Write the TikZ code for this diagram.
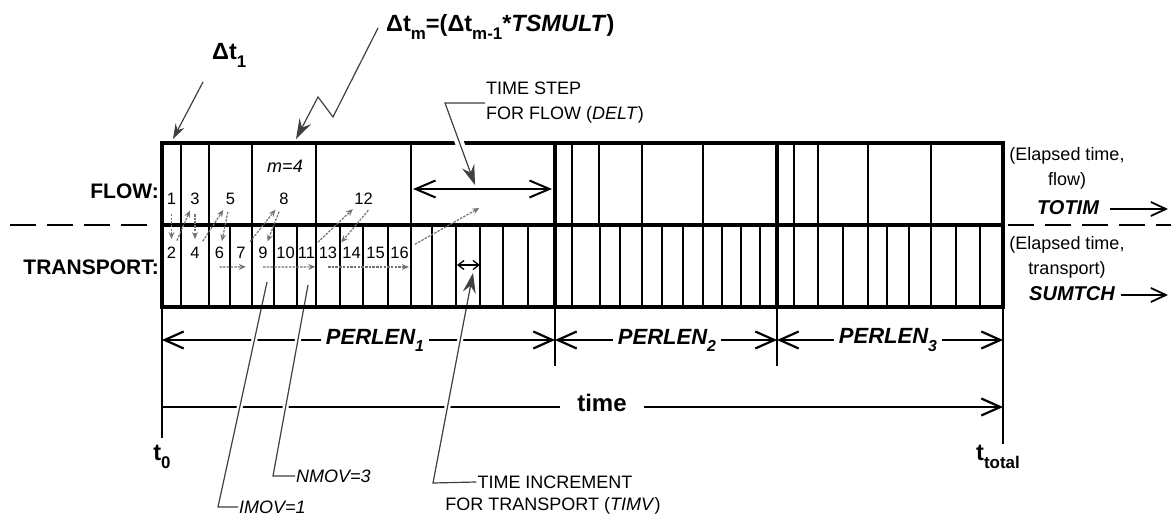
\documentclass[tikz,border=0pt]{standalone}
\usepackage{fontspec}
\setmainfont{Liberation Sans}
\usetikzlibrary{arrows.meta,calc}
\newcommand{\dn}[1]{\raisebox{-0.32em}{\scalebox{0.72}{#1}}}
\begin{document}
\begin{tikzpicture}[x=1pt,y=-1pt,
  heavy/.style={line width=4pt},
  divline/.style={line width=2.4pt},
  ext/.style={line width=2.7pt},
  dim/.style={line width=2.2pt,-{Straight Barb[length=19pt,width=17pt,line width=2.2pt]}},
  plainline/.style={line width=2.2pt},
  leader/.style={draw=black!75,line width=1.2pt},
  halo/.style={preaction={draw=white,line width=#1,-}},
  bigtip/.style={-{Stealth[length=20pt,width=13pt,inset=7pt]}},
  seq/.style={draw=black!55,line width=1.2pt,dash pattern=on 2.5pt off 1.2pt,-{Stealth[length=7pt,width=6pt,inset=2.5pt]},shorten <=7pt,shorten >=6pt},
  num/.style={inner sep=0pt,font=\fontsize{16.5}{16.5}\selectfont},
  lbl/.style={inner sep=0pt,font=\fontsize{21}{21}\selectfont\bfseries},
  txt/.style={inner sep=1pt,font=\fontsize{18}{25}\selectfont},
  itxt/.style={inner sep=1pt,font=\fontsize{18}{25}\selectfont\itshape},
  per/.style={inner ysep=0pt,inner xsep=5pt,font=\fontsize{22}{22}\selectfont\bfseries\itshape},
  bi/.style={inner ysep=0pt,font=\fontsize{20}{20}\selectfont\bfseries\itshape},
  dtl/.style={inner sep=0pt,font=\fontsize{23.5}{24}\selectfont\bfseries},
  rarr/.style={line width=1.8pt,-{Straight Barb[length=15pt,width=14pt,line width=1.8pt]}},
  dbl/.style={line width=2pt,{Straight Barb[length=20pt,width=17pt,line width=2pt]}-{Straight Barb[length=20pt,width=17pt,line width=2pt]}},
  sdbl/.style={line width=1.3pt,{Straight Barb[length=6pt,width=9pt,line width=1.3pt]}-{Straight Barb[length=6pt,width=9pt,line width=1.3pt]}}
]
\useasboundingbox (0,0) rectangle (1171,518);

% dashed separation line
\coordinate (dl1) at (10,225); \coordinate (dl2) at (150,225);
\coordinate (dr1) at (1008,225); \coordinate (dr2) at (1171,225);
\draw[line width=1.8pt,dash pattern=on 26pt off 11pt] (dl1) -- (dl2);
\draw[line width=1.8pt,dash pattern=on 26pt off 11pt] (dr1) -- (dr2);

% extensions and ticks below the box
\draw[ext] (162,305) -- (162,438);
\draw[ext] (1003,305) -- (1003,444);
\draw[ext] (555,305) -- (555,366);
\draw[ext] (777,305) -- (777,366);

% PERLEN dimension arrows
\coordinate (pl0) at (162,340); \coordinate (pl1) at (555,340);
\coordinate (pl2) at (777,340); \coordinate (pl3) at (1003,340);
\node[per] (p1) at (375,340) {PERLEN\dn{1}};
\node[per] (p2) at (667,340) {PERLEN\dn{2}};
\node[per] (p3) at (888,340) {PERLEN\dn{3}};
\draw[dim] (pl0 -| p1.west) -- (pl0);
\draw[dim] (pl0 -| p1.east) -- (pl1);
\draw[dim] (pl1 -| p2.west) -- (pl1);
\draw[dim] (pl1 -| p2.east) -- (pl2);
\draw[dim] (pl2 -| p3.west) -- (pl2);
\draw[dim] (pl2 -| p3.east) -- (pl3);

% time axis
\coordinate (tl0) at (162,407); \coordinate (tl1) at (1003,407);
\node[inner ysep=0pt,inner xsep=17pt,font=\fontsize{24}{24}\selectfont\bfseries] (tm) at (602,403) {time};
\draw[plainline] (tl0) -- (tl0 -| tm.west);
\draw[dim] (tl0 -| tm.east) -- (tl1);

% lower leaders
\node[itxt,anchor=west] (imov) at (238,507) {IMOV=1};
\coordinate (ib) at (218,507); \coordinate (it) at (267,282);
\draw[leader,halo=6pt] (imov.west) -- (ib) -- (it);
\node[itxt,anchor=west] (nmov) at (295,476) {NMOV=3};
\coordinate (nb) at (273,476); \coordinate (nt) at (308,285);
\draw[leader,halo=6pt] (nmov.west) -- (nb) -- (nt);
\node[txt] (ti1) at (555,482) {TIME INCREMENT};
\node[txt] (ti2) at (553,506) {FOR TRANSPORT (\textit{TIMV})};
\coordinate (tb) at (433,483); \coordinate (tt) at (473,273);
\draw[leader,halo=6pt,bigtip] (ti1.west) -- (tb) -- (tt);

% the box
\draw[heavy] (162,143) rectangle (1003,307);
\draw[heavy] (162,225) -- (1003,225);
\draw[heavy] (555,143) -- (555,307);
\draw[heavy] (777,143) -- (777,307);
\foreach \x in {181,209,252,316,411,572,599,642,703,794,818,868,931}
  \draw[divline] (\x,145) -- (\x,225);
\foreach \x in {181,209,230,252,274,297,316,340,363,388,411,432,456,480,503,528,572,600,620,642,662,683,703,722,741,760,794,818,843,868,887,909,931,956,980}
  \draw[divline] (\x,225) -- (\x,305);

% DELT leader
\node[txt,anchor=west,align=left] (delt) at (485,103) {TIME STEP\\FOR FLOW (\textit{DELT})};
\coordinate (db) at (445,103); \coordinate (dtp) at (475,185);
\draw[leader,halo=9pt,bigtip] (delt.west) -- (db) -- (dtp);

% Delta t leaders
\node[dtl,anchor=base west] (dt1) at (212,60) {Δt\dn{1}};
\coordinate (c1) at (173,139);
\draw[leader,-{Stealth[length=15pt,width=10pt,inset=5pt]}] ($(dt1.base west)+(-9,22)$) -- (c1);
\node[dtl,anchor=base west] (dtm) at (386,32) {Δt\dn{m}=(Δt\dn{m-1}*\textit{TSMULT})};
\coordinate (z1) at (333,117); \coordinate (z2) at (318,97); \coordinate (c2) at (296,139);
\draw[leader,bigtip] ($(dtm.base west)+(-8,-4)$) -- (z1) -- (z2) -- (c2);

% double arrows
\coordinate (da1) at (413,189); \coordinate (da2) at (552,189);
\draw[dbl] (da1) -- (da2);
\coordinate (ta1) at (457,265); \coordinate (ta2) at (480,265);
\draw[sdbl] (ta1) -- (ta2);

% step numbers
\node[num] (n1) at (171.5,199) {1};
\node[num] (n3) at (195,199) {3};
\node[num] (n5) at (230.5,199) {5};
\node[num] (n8) at (284,199) {8};
\node[num] (n12) at (363.5,199) {12};
\node[num] (n2) at (171.5,253) {2};
\node[num] (n4) at (195,253) {4};
\node[num] (n6) at (219.5,253) {6};
\node[num] (n7) at (241,253) {7};
\node[num] (n9) at (263,253) {9};
\node[num] (n10) at (285.5,253) {10};
\node[num] (n11) at (306.5,253) {11};
\node[num] (n13) at (328,253) {13};
\node[num] (n14) at (351.5,253) {14};
\node[num] (n15) at (375.5,253) {15};
\node[num] (n16) at (399.5,253) {16};
\coordinate (f6) at (481,207);

\draw[seq,shorten <=9pt,shorten >=8pt] (n1) -- (n2);
\draw[seq] (n2) -- (n3);
\draw[seq,shorten <=9pt,shorten >=8pt] (n3) -- (n4);
\draw[seq] (n4) -- (n5);
\draw[seq] (n5) -- (n6);
\draw[seq,shorten <=0pt,shorten >=0pt] ([yshift=-8pt]n6.south) -- ([yshift=-8pt]n7.south east);
\draw[seq] (n7) -- (n8);
\draw[seq] (n8) -- (n9);
\draw[seq,shorten <=0pt,shorten >=0pt] ([yshift=-8pt]n9.south) -- ([yshift=-8pt]n11.south east);
\draw[seq] (n11) -- (n12);
\draw[seq] (n12.south east) -- (n13.north east);
\draw[seq,shorten <=0pt,shorten >=0pt] ([yshift=-8pt]n13.south) -- ([yshift=-8pt]n16.south east);
\draw[seq,shorten >=2pt] (n16) -- (f6);

\node[itxt] (m4) at (285,166) {m=4};

% row labels
\node[lbl,anchor=east] (flow) at (159,191) {FLOW:};
\node[lbl,anchor=east] (trans) at (159,267) {TRANSPORT:};

% right side labels
\node[txt,align=center] (el1) at (1067,168) {(Elapsed time,\\flow)};
\node[bi,inner xsep=11pt] (totim) at (1068,208) {TOTIM};
\coordinate (ta) at (1168,209);
\draw[rarr] (totim.east |- ta) -- (ta);
\node[txt,align=center] (el2) at (1067,257) {(Elapsed time,\\transport)};
\node[bi,inner xsep=6pt] (sum) at (1072,294) {SUMTCH};
\coordinate (sa) at (1168,295);
\draw[rarr] (sum.east |- sa) -- (sa);

% t labels
\node[dtl,anchor=base] (t0) at (162,461) {t\dn{0}};
\node[dtl,anchor=base west] (tt0) at (976,461) {t\dn{total}};
\end{tikzpicture}
\end{document}
